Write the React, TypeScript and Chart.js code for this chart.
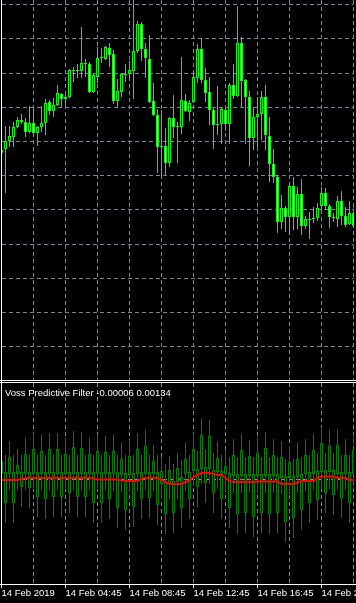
import React, { useEffect, useRef } from 'react';
import { Chart, registerables } from 'chart.js';

Chart.register(...registerables);
Chart.defaults.font.family = 'Liberation Sans';

// ---- main price candles (15-minute bars, 14 Feb 2019) ----
const OPEN = [
  1.12847, 1.12851, 1.12859, 1.12863, 1.12873, 1.12880, 1.12878, 1.12868, 1.12877, 1.12867,
  1.12873, 1.12877, 1.12898, 1.12889, 1.12895, 1.12906, 1.12901, 1.12903, 1.12930, 1.12929,
  1.12929, 1.12937, 1.12936, 1.12908, 1.12923, 1.12942, 1.12941, 1.12952, 1.12946, 1.12899,
  1.12908, 1.12926, 1.12926, 1.12929, 1.12949, 1.12976, 1.12951, 1.12941, 1.12899, 1.12885,
  1.12853, 1.12854, 1.12837, 1.12882, 1.12874, 1.12873, 1.12899, 1.12888, 1.12898, 1.12922,
  1.12951, 1.12920, 1.12908, 1.12890, 1.12875, 1.12876, 1.12890, 1.12876, 1.12915, 1.12904,
  1.12957, 1.12920, 1.12903, 1.12862, 1.12883, 1.12886, 1.12903, 1.12864, 1.12836, 1.12823,
  1.12778, 1.12792, 1.12783, 1.12814, 1.12783, 1.12806, 1.12774, 1.12781, 1.12781, 1.12782,
  1.12794, 1.12807, 1.12794, 1.12783, 1.12781, 1.12799, 1.12784, 1.12776, 1.12787,
];
const HIGH = [
  1.12851, 1.12874, 1.12874, 1.12878, 1.12883, 1.12886, 1.12882, 1.12894, 1.12894, 1.12874,
  1.12894, 1.12901, 1.12900, 1.12902, 1.12915, 1.12907, 1.12905, 1.12931, 1.12933, 1.12936,
  1.12973, 1.12941, 1.12938, 1.12926, 1.12953, 1.12952, 1.12954, 1.12957, 1.12950, 1.12921,
  1.12927, 1.12936, 1.12939, 1.13003, 1.12979, 1.12978, 1.12957, 1.12965, 1.12917, 1.12891,
  1.12890, 1.12872, 1.12883, 1.12905, 1.12878, 1.12943, 1.12906, 1.12900, 1.12928, 1.12956,
  1.12962, 1.12932, 1.12923, 1.12892, 1.12914, 1.12893, 1.12892, 1.12917, 1.12936, 1.12994,
  1.12963, 1.12921, 1.12909, 1.12893, 1.12903, 1.12909, 1.12915, 1.12883, 1.12851, 1.12825,
  1.12805, 1.12794, 1.12818, 1.12823, 1.12813, 1.12821, 1.12784, 1.12788, 1.12793, 1.12797,
  1.12813, 1.12812, 1.12796, 1.12787, 1.12804, 1.12809, 1.12793, 1.12799, 1.12796,
];
const LOW = [
  1.12844, 1.12807, 1.12853, 1.12853, 1.12872, 1.12876, 1.12863, 1.12867, 1.12863, 1.12854,
  1.12868, 1.12865, 1.12885, 1.12883, 1.12894, 1.12893, 1.12894, 1.12902, 1.12918, 1.12922,
  1.12922, 1.12923, 1.12907, 1.12907, 1.12917, 1.12937, 1.12940, 1.12933, 1.12896, 1.12893,
  1.12903, 1.12918, 1.12921, 1.12901, 1.12947, 1.12939, 1.12922, 1.12897, 1.12884, 1.12827,
  1.12824, 1.12825, 1.12833, 1.12862, 1.12837, 1.12866, 1.12888, 1.12879, 1.12897, 1.12917,
  1.12917, 1.12898, 1.12875, 1.12851, 1.12865, 1.12856, 1.12869, 1.12856, 1.12901, 1.12903,
  1.12893, 1.12856, 1.12834, 1.12850, 1.12853, 1.12860, 1.12850, 1.12818, 1.12817, 1.12767,
  1.12771, 1.12768, 1.12765, 1.12770, 1.12771, 1.12765, 1.12771, 1.12761, 1.12777, 1.12779,
  1.12789, 1.12791, 1.12772, 1.12778, 1.12773, 1.12775, 1.12773, 1.12775, 1.12773,
];
const CLOSE = [
  1.12850, 1.12859, 1.12864, 1.12873, 1.12880, 1.12878, 1.12868, 1.12877, 1.12867, 1.12873,
  1.12877, 1.12897, 1.12889, 1.12895, 1.12907, 1.12901, 1.12903, 1.12930, 1.12929, 1.12930,
  1.12937, 1.12936, 1.12908, 1.12925, 1.12942, 1.12943, 1.12953, 1.12945, 1.12899, 1.12909,
  1.12926, 1.12925, 1.12930, 1.12949, 1.12976, 1.12951, 1.12942, 1.12898, 1.12885, 1.12853,
  1.12854, 1.12837, 1.12882, 1.12873, 1.12873, 1.12900, 1.12889, 1.12897, 1.12923, 1.12951,
  1.12920, 1.12907, 1.12890, 1.12875, 1.12876, 1.12891, 1.12876, 1.12915, 1.12904, 1.12957,
  1.12919, 1.12903, 1.12862, 1.12883, 1.12886, 1.12903, 1.12865, 1.12836, 1.12823, 1.12778,
  1.12792, 1.12783, 1.12814, 1.12783, 1.12806, 1.12774, 1.12781, 1.12780, 1.12782, 1.12792,
  1.12807, 1.12794, 1.12783, 1.12782, 1.12799, 1.12784, 1.12775, 1.12787, 1.12774,
];

// ---- Voss Predictive Filter sub-window ----
const IND_OPEN = [
  0.0001, 0.00014, 0.0001, 0.00014, 0.0001, 0.00014, 0.0001, 0.00014, 0.0001, 0.00014,
  0.0001, 0.00014, 0.0001, 0.00014, 0.0001, 0.00014, 0.0001, 0.00014, 0.0001, 0.00014,
  0.0001, 0.00014, 0.0001, 0.00014, 0.0001, 0.00014, 0.0001, 0.00014, 0.0001, 0.00014,
  0.00008, 0.00012, 0.00008, 0.00012, 0.0001, 0.00014, 0.0001, 0.00014, 0.0001, 0.00014,
  -0.0001, -0.00004, -0.0001, -0.00004, -0.00006, 0.00004, 0.0001, 0.00014, 0.00016, 0.0002,
  0.0002, 0.00024, 0.0002, 0.00018, 0.00014, 0.00016, 0.0001, 0.00012, 0.00006, 0.0001,
  0.00006, 0.0001, 0.00006, 0.0001, 0.00006, 0.0001, 0.00006, 0.0001, 0.00006, 0.0001,
  0.00002, 0.00006, 0.00002, 0.00006, 0.00004, 0.0001, 0.0001, 0.00014, 0.0001, 0.00016,
  0.00014, 0.00018, 0.00014, 0.00018, 0.0001, 0.00014, 0.0001, 0.00014, 0.0001,
];
const IND_HIGH = [
  0.00068, 0.00048, 0.00076, 0.00048, 0.0006, 0.00048, 0.00082, 0.00048, 0.00092, 0.00048,
  0.00088, 0.00048, 0.00092, 0.00048, 0.00092, 0.00048, 0.00082, 0.00048, 0.00096, 0.00048,
  0.00094, 0.00048, 0.00082, 0.00048, 0.00088, 0.00048, 0.00086, 0.00048, 0.00088, 0.00048,
  0.00072, 0.00048, 0.00078, 0.00048, 0.00092, 0.00048, 0.00098, 0.00048, 0.00068, 0.00048,
  0.00044, 0.0003, 0.00046, 0.0003, 0.00052, 0.00038, 0.00072, 0.00048, 0.00092, 0.00056,
  0.0012, 0.0006, 0.00118, 0.00052, 0.00074, 0.00048, 0.00058, 0.00044, 0.0008, 0.00044,
  0.0009, 0.00044, 0.00078, 0.00044, 0.00084, 0.00044, 0.00094, 0.00044, 0.0008, 0.00044,
  0.00076, 0.0004, 0.00066, 0.0004, 0.00072, 0.00044, 0.0008, 0.00048, 0.0009, 0.00052,
  0.00104, 0.00052, 0.00098, 0.00052, 0.001, 0.00048, 0.0008, 0.00048, 0.0009,
];
const IND_LOW = [
  -0.00022, -0.00088, -0.00022, -0.00088, -0.00022, -0.00056, -0.00022, -0.00058, -0.00022, -0.00076,
  -0.00022, -0.0008, -0.00022, -0.00076, -0.00022, -0.00076, -0.00022, -0.00068, -0.00022, -0.00076,
  -0.00022, -0.00076, -0.00022, -0.00088, -0.00022, -0.00088, -0.00022, -0.0008, -0.00024, -0.00098,
  -0.00026, -0.00102, -0.00026, -0.00096, -0.00024, -0.0008, -0.00022, -0.00078, -0.00024, -0.00092,
  -0.0004, -0.0011, -0.0004, -0.00108, -0.0004, -0.00098, -0.00024, -0.0008, -0.00014, -0.00056,
  -0.0001, -0.00048, -0.0001, -0.00068, -0.0002, -0.0008, -0.00024, -0.00098, -0.00028, -0.0011,
  -0.00028, -0.00108, -0.00028, -0.00116, -0.00028, -0.00108, -0.00028, -0.0011, -0.00028, -0.00108,
  -0.0003, -0.00126, -0.0003, -0.00118, -0.00028, -0.00102, -0.00024, -0.00088, -0.00022, -0.00082,
  -0.0002, -0.00068, -0.0002, -0.00072, -0.00022, -0.00078, -0.00022, -0.00088, -0.00022,
];
const IND_CLOSE = [
  0.00036, -0.00048, 0.00044, -0.00048, 0.00028, -0.00016, 0.0005, -0.00018, 0.0006, -0.00036,
  0.00056, -0.0004, 0.0006, -0.00036, 0.0006, -0.00036, 0.0005, -0.00028, 0.00064, -0.00036,
  0.00062, -0.00036, 0.0005, -0.00048, 0.00056, -0.00048, 0.00054, -0.0004, 0.00056, -0.00058,
  0.0004, -0.00062, 0.00046, -0.00056, 0.0006, -0.0004, 0.00066, -0.00038, 0.00036, -0.00052,
  0.00016, -0.0007, 0.00018, -0.00068, 0.00022, -0.00058, 0.0004, -0.0004, 0.0006, -0.00016,
  0.00088, -0.00008, 0.00086, -0.00028, 0.00042, -0.0004, 0.00026, -0.00058, 0.00048, -0.0007,
  0.00058, -0.00068, 0.00046, -0.00076, 0.00052, -0.00068, 0.00062, -0.0007, 0.00048, -0.00068,
  0.00044, -0.00086, 0.00034, -0.00078, 0.0004, -0.00062, 0.00048, -0.00048, 0.00058, -0.00042,
  0.00072, -0.00028, 0.00066, -0.00032, 0.00068, -0.00038, 0.00048, -0.00048, 0.00058,
];
const VOSS = [
  -0.00002, -0.00002, -0.00002, -0.00002, -0.00002, 0, 0.00002, 0.00002, 0.00002, 0.00002,
  0.00002, 0.00002, 0.00002, 0.00002, 0.00002, 0.00002, 0.00002, 0.00002, 0.00002, 0.00002,
  0.00002, 0.00002, 0.00002, 0.00001, -0.00001, -0.00001, -0.00001, -0.00001, -0.00001, -0.00001,
  -0.00003, -0.00004, -0.00004, -0.00004, -0.00004, 0.00001, 0.00002, 0.00002, 0.00002, 0.00002,
  -0.00002, -0.00006, -0.0001, -0.0001, -0.0001, -0.0001, -0.00006, -0.00003, 0.00004, 0.00008,
  0.00012, 0.00012, 0.00012, 0.0001, 0.00008, 0.00008, 0.00002, -0.00004, -0.00006, -0.00006,
  -0.00006, -0.00006, -0.00006, -0.00006, -0.00005, -0.00005, -0.00005, -0.00005, -0.00005, -0.00005,
  -0.0001, -0.0001, -0.0001, -0.0001, -0.00007, -0.00004, -0.00004, -0.00004, -0.00004, 0.00002,
  0.00005, 0.00005, 0.00005, 0.00005, 0.00002, 0.00002, 0.00002, -0.00002, -0.00002,
];

const PRICE_GRID = [1.129955, 1.129615, 1.129265, 1.128925, 1.128585, 1.128245, 1.127905, 1.127555, 1.127215, 1.126875, 1.126535];
const AXIS_LABELS = ['14 Feb 2019', '14 Feb 04:45', '14 Feb 08:45', '14 Feb 12:45', '14 Feb 16:45', '14 Feb 20:45'];
const TITLE = 'Voss Predictive Filter -0.00006 0.00134';

const TIMES = OPEN.map((_, i) => {
  const t = 45 + 15 * i;
  return `14 Feb ${String(Math.floor(t / 60)).padStart(2, '0')}:${String(t % 60).padStart(2, '0')}`;
});

const GRID = '#778899';
const LEVEL = '#a0a0a0';
const NONE = 'rgba(0,0,0,0)';
const LIME = '#00ff00';
const IND_GREEN = '#008000';
const DASH = [4, 3];

export default function App() {
  const mainRef = useRef<HTMLCanvasElement>(null);
  const indRef = useRef<HTMLCanvasElement>(null);

  useEffect(() => {
    const main = new Chart(mainRef.current as HTMLCanvasElement, {
      type: 'bar',
      data: {
        labels: TIMES,
        datasets: [
          {
            data: OPEN.map((o, i) => [o, CLOSE[i]]),
            backgroundColor: OPEN.map((o, i) => (CLOSE[i] > o ? '#000000' : '#ffffff')),
            borderColor: LIME,
            borderWidth: 1,
            borderSkipped: false,
            barThickness: 3,
            grouped: false,
            minBarLength: 1,
            inflateAmount: 0,
            clip: 0,
            order: 1,
          } as any,
          {
            data: LOW.map((l, i) => [l, HIGH[i]]),
            backgroundColor: LIME,
            borderWidth: 0,
            barThickness: 1,
            grouped: false,
            inflateAmount: 0,
            clip: 0,
            order: 2,
          } as any,
        ],
      },
      options: {
        animation: false,
        responsive: false,
        maintainAspectRatio: false,
        events: [],
        layout: { padding: { left: 1.5, right: 2.5, top: 0, bottom: 1 } },
        plugins: { legend: { display: false }, tooltip: { enabled: false } },
        scales: {
          x: {
            type: 'category',
            offset: false,
            ticks: { display: false, autoSkip: false },
            grid: { offset: false, drawTicks: false, color: (c: any) => (c.index % 8 === 0 ? GRID : NONE) },
            border: { display: true, color: '#ffffff', dash: DASH, z: 1 },
          },
          y: {
            type: 'linear',
            min: 1.1262,
            max: 1.13,
            ticks: { display: false },
            afterBuildTicks: (s: any) => {
              s.ticks = PRICE_GRID.map((v) => ({ value: v }));
            },
            grid: { drawTicks: false, color: GRID },
            border: { display: true, color: '#ffffff', dash: DASH, z: 1 },
          },
        },
      } as any,
    });

    const ind = new Chart(indRef.current as HTMLCanvasElement, {
      type: 'bar',
      data: {
        labels: TIMES,
        datasets: [
          {
            type: 'line',
            data: VOSS,
            borderColor: '#ff0000',
            borderWidth: 2,
            pointRadius: 0,
            fill: false,
            tension: 0,
            clip: 0,
            order: 0,
          } as any,
          {
            data: IND_OPEN.map((o, i) => [o, IND_CLOSE[i]]),
            backgroundColor: '#000000',
            borderColor: IND_GREEN,
            borderWidth: 1,
            borderSkipped: false,
            barThickness: 3,
            grouped: false,
            minBarLength: 1,
            inflateAmount: 0,
            clip: 0,
            order: 1,
          } as any,
          {
            data: IND_LOW.map((l, i) => [l, IND_HIGH[i]]),
            backgroundColor: IND_GREEN,
            borderWidth: 0,
            barThickness: 1,
            grouped: false,
            inflateAmount: 0,
            clip: 0,
            order: 2,
          } as any,
        ],
      },
      options: {
        animation: false,
        responsive: false,
        maintainAspectRatio: false,
        events: [],
        layout: { padding: { left: 1.5, right: 2.5, top: 0, bottom: 3.6 } },
        plugins: { legend: { display: false }, tooltip: { enabled: false } },
        scales: {
          x: {
            type: 'category',
            offset: false,
            grid: {
              offset: false,
              drawTicks: true,
              tickLength: 4,
              tickWidth: 1,
              color: (c: any) => (c.index % 8 === 0 ? GRID : NONE),
              tickColor: (c: any) => (c.index % 16 === 0 ? '#ffffff' : NONE),
            },
            border: { display: true, color: '#ffffff', dash: DASH, z: 1 },
            ticks: {
              autoSkip: false,
              maxRotation: 0,
              minRotation: 0,
              align: 'start',
              padding: 0,
              color: '#ffffff',
              font: { family: 'Liberation Sans', size: 9.5 },
              callback: (_v: any, i: number) => (i % 16 === 0 ? AXIS_LABELS[i / 16] : ''),
            },
          },
          y: {
            type: 'linear',
            min: -0.0021,
            max: 0.00192,
            ticks: { display: false },
            afterBuildTicks: (s: any) => {
              s.ticks = [{ value: 0 }];
            },
            grid: { drawTicks: false, color: LEVEL },
            border: { display: true, color: '#ffffff', dash: DASH, z: 1 },
          },
        },
      } as any,
    });

    return () => {
      main.destroy();
      ind.destroy();
    };
  }, []);

  return (
    <div style={{ position: 'fixed', left: 0, top: 0, width: 356, height: 603, background: '#000', overflow: 'hidden' }}>
      <canvas ref={mainRef} width={356} height={381} style={{ position: 'absolute', left: 0, top: 0, width: 356, height: 381 }} />
      <div style={{ position: 'absolute', left: 0, top: 380, width: 356, height: 1, background: '#fff' }} />
      <div style={{ position: 'absolute', left: 0, top: 382, width: 356, height: 1, background: '#fff' }} />
      <div style={{ position: 'absolute', left: 1, top: 380, width: 1, height: 3, background: '#fff' }} />
      <canvas ref={indRef} width={356} height={220} style={{ position: 'absolute', left: 0, top: 383, width: 356, height: 220 }} />
      <div style={{ position: 'absolute', left: 0, top: 584, width: 356, height: 1, background: '#fff' }} />
      <div
        style={{
          position: 'absolute',
          left: 5,
          top: 387,
          color: '#fff',
          fontFamily: '"Liberation Sans"',
          fontSize: '9.5px',
          lineHeight: '11px',
          whiteSpace: 'nowrap',
        }}
      >
        {TITLE}
      </div>
    </div>
  );
}
